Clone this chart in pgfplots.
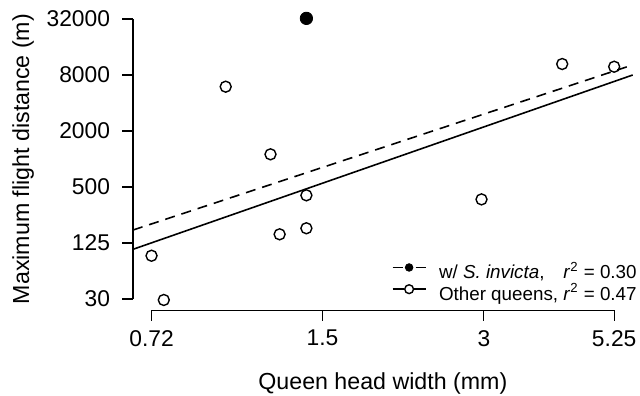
\documentclass[border=0pt]{standalone}
\usepackage{pgfplots}
\pgfplotsset{compat=1.18}
\usepackage{fontspec}
\setmainfont{Liberation Sans}
\usepackage{calc}
\pgfplotstableread{
x y
0.99 5990
1.20 1123
1.40 407
1.248 155
1.40 180
0.72 91.2
0.759 30.5
2.97 368
4.20 10500
5.25 9820
}\others
\pgfplotstableread{
x y
1.40 32500
}\invicta
\begin{document}
\begin{tikzpicture}
\begin{axis}[
  scale only axis, width=249.85pt, height=151.2pt,
  xmode=log, ymode=log,
  xmin=0.6649, xmax=5.685, ymin=23.68, ymax=42230,
  axis x line*=bottom, axis y line*=left,
  axis line style={draw=none},
  clip=false,
  xtick={0.72,1.5,3,5.25}, xticklabels={0.72,1.5,3,5.25},
  ytick={31.25,125,500,2000,8000,32000}, yticklabels={30,125,500,2000,8000,32000},
  minor xtick={}, minor ytick={},
  tick align=outside, major tick length=5.3pt,
  tick style={black, line width=0.6pt},
  /pgf/number format/assume math mode=true,
  yticklabel style={font=\fontsize{11.4}{14}\selectfont, inner sep=0pt, anchor=east, xshift=-6pt},
  xticklabel style={font=\fontsize{11.4}{14}\selectfont, inner sep=0pt, anchor=north, yshift=-4.5pt},
  xlabel={Queen head width (mm)},
  ylabel={Maximum flight distance (m)},
  every axis x label/.style={font=\fontsize{11.6}{14}\selectfont, inner sep=0pt,
    at={([yshift=-39.5pt]rel axis cs:0.5,0)}, anchor=base},
  every axis y label/.style={font=\fontsize{11.6}{14}\selectfont, inner sep=0pt,
    at={([xshift=-51.9pt]rel axis cs:0,0.5)}, anchor=base, rotate=90},
  legend cell align=left,
  legend style={draw=none, fill=none, inner sep=0pt, column sep=0pt, row sep=0pt,
    at={(rel axis cs:1.0086,0.0133)}, anchor=south east,
    nodes={inner sep=0pt, text height=7.4pt, text depth=2.6pt, font=\fontsize{9.4}{10}\selectfont}},
]
\coordinate (sw) at (rel axis cs:0,0);
\coordinate (ne) at (rel axis cs:1,1);
\addlegendimage{legend image code/.code={
  \draw[line width=0.8pt] (0pt,3.3pt)--(5pt,3.3pt) (11.5pt,3.3pt)--(16.5pt,3.3pt);
  \fill (8.25pt,3.3pt) circle (1.9pt);}}
\addlegendentry{\hspace*{6.3pt}\makebox[\widthof{Other queens, }][l]{w/ \textit{S.~invicta},}\textit{r}\textsuperscript{2} = 0.30}
\addlegendimage{legend image code/.code={
  \draw[line width=0.8pt] (0pt,3.3pt)--(5.9pt,3.3pt) (10.6pt,3.3pt)--(16.5pt,3.3pt);
  \draw[line width=0.7pt] (8.25pt,3.3pt) circle (2.2pt);}}
\addlegendentry{\hspace*{6.3pt}Other queens, \textit{r}\textsuperscript{2} = 0.47}
\addplot[forget plot, line width=0.8pt, dash pattern=on 5pt off 3.5pt] coordinates {(0.6649,172.3) (5.685,10270)};
\addplot[forget plot, line width=0.8pt] coordinates {(0.6649,106.9) (5.685,8000)};
\addplot[forget plot, only marks, mark=o, mark size=2.75pt, mark options={line width=0.7pt}] table {\others};
\addplot[forget plot, only marks, mark=*, mark size=3.1pt] table {\invicta};
\draw[line width=0.6pt] (axis cs:0.6649,31.25) -- (axis cs:0.6649,32000);
\draw[line width=0.6pt] (axis cs:0.72,23.68) -- (axis cs:5.25,23.68);
\end{axis}
\pgfresetboundingbox
\useasboundingbox ([shift={(-66.5pt,-42.4pt)}]sw) rectangle ([shift={(3.65pt,3.9pt)}]ne);
\end{tikzpicture}
\end{document}
